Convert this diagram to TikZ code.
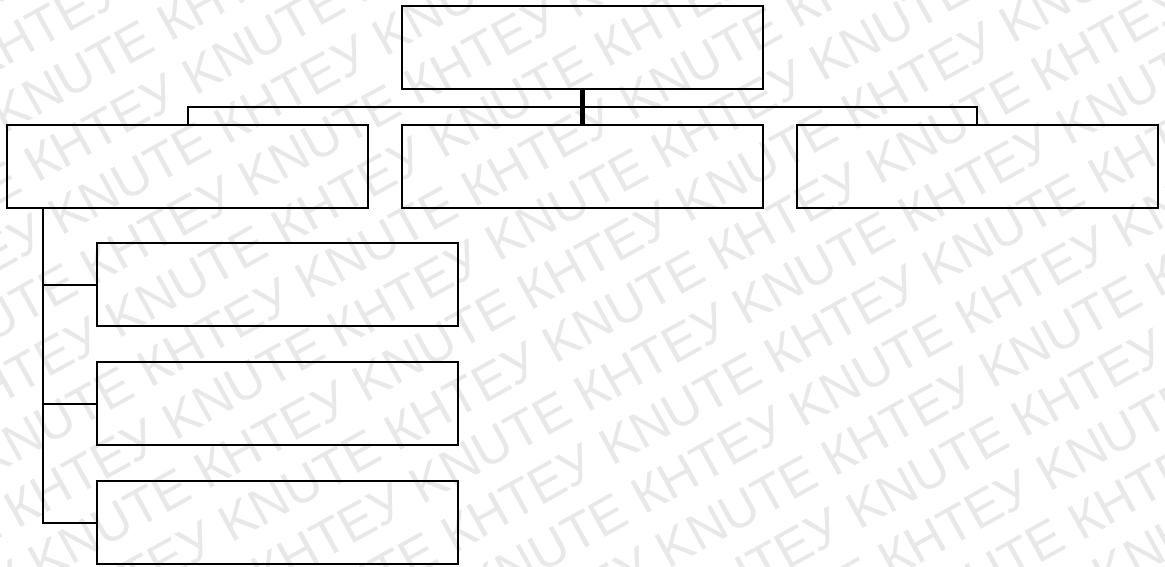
\documentclass[tikz,border=0pt]{standalone}
\usepackage{fontspec}
\newfontfamily\wmfont{Liberation Sans}
\newlength\wmlenphrase
\newlength\wmlenfirst
\tikzset{
  orgbox/.style={draw=black, line width=2pt, minimum width=361pt, minimum height=83pt, inner sep=0pt},
  link/.style={draw=black, line width=2pt},
  mainlink/.style={draw=black, line width=5pt},
  wmark/.style={text=black!9, font=\wmfont\fontsize{\wmsize}{\wmsize}\selectfont, anchor=base west, inner sep=0pt, transform shape},
}
\newcommand\wmphrase{КНТЕУ KNUTE\ }
\begin{document}
\settowidth{\wmlenphrase}{\wmfont\fontsize{10}{10}\selectfont КНТЕУ KNUTE\ }%
\settowidth{\wmlenfirst}{\wmfont\fontsize{10}{10}\selectfont КНТЕУ\ }%
\begin{tikzpicture}[x=1pt,y=1pt]
\path[use as bounding box] (0,0) rectangle (1165,-566);
\pgfmathsetmacro\wmsize{3700/max(\wmlenphrase,1)}
\pgfmathsetmacro\wmone{\wmlenfirst*\wmsize/10}
\pgfmathsetmacro\wmkx{0.34*\wmsize}
\pgfmathsetmacro\wmcap{0.358*\wmsize}
\begin{scope}
\clip (0,0) rectangle (1165,-566);
\begin{scope}[shift={(561.7,-340)}, rotate=29]
\foreach \r in {-10,...,9}{
  \pgfmathsetmacro\sx{-\wmkx - \wmone + 185*mod(abs(\r),2) - 740}
  \pgfmathsetmacro\by{-\wmcap - 58.5*\r}
  \node[wmark] (wm\r) at (\sx,\by) {\wmphrase\wmphrase\wmphrase\wmphrase\wmphrase\wmphrase};
}
\end{scope}
\end{scope}
\node[orgbox] (top) at (582.5,-47.5) {};
\node[orgbox] (mid) at (582.5,-166) {};
\node[orgbox] (left) at (187.5,-166) {};
\node[orgbox] (right) at (977,-166) {};
\node[orgbox] (c1) at (277.5,-284.8) {};
\node[orgbox] (c2) at (277.5,-403.8) {};
\node[orgbox] (c3) at (277.5,-522.8) {};
\coordinate (bus) at (0,-106.7);
\coordinate (trunk) at (43.3,0);
\draw[link] (left.north) -- (left.north |- bus) -- (right.north |- bus) -- (right.north);
\draw[mainlink] (top.south) -- (mid.north);
\draw[link] (trunk |- left.south) -- (trunk |- c3.west) -- (c3.west);
\draw[link] (trunk |- c1.west) -- (c1.west);
\draw[link] (trunk |- c2.west) -- (c2.west);
\end{tikzpicture}
\end{document}
